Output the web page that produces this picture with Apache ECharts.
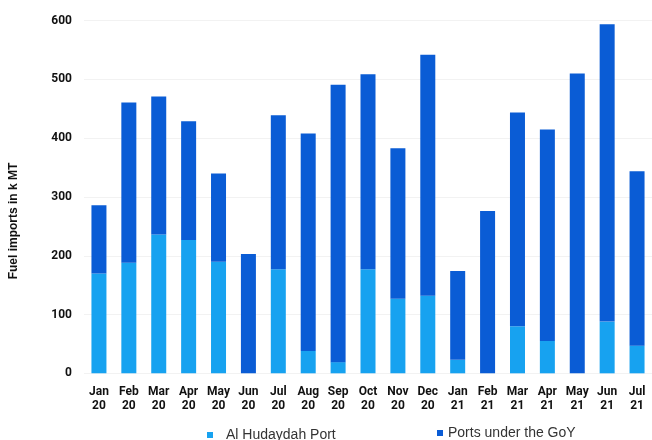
<!DOCTYPE html>
<html>
<head>
<meta charset="utf-8">
<script src="https://cdn.jsdelivr.net/npm/echarts@6/dist/echarts.min.js"></script>
<style>
  html, body { margin: 0; padding: 0; background: #fff; }
  #chart { width: 652px; height: 440px; }
</style>
</head>
<body>
<div id="chart"></div>
<script>
// Monthly fuel imports (thousand metric tonnes), Jan 2020 – Jul 2021
const months = ['Jan\n20','Feb\n20','Mar\n20','Apr\n20','May\n20','Jun\n20','Jul\n20','Aug\n20','Sep\n20','Oct\n20','Nov\n20','Dec\n20',
                'Jan\n21','Feb\n21','Mar\n21','Apr\n21','May\n21','Jun\n21','Jul\n21'];
const hudaydah = [170, 188, 236, 227, 190, 0, 177, 38, 19, 177, 127, 132, 23, 0, 80, 55, 0, 88, 47];
const goyPorts = [116, 273, 235, 202, 150, 203, 262, 370, 472, 332, 256, 410, 151, 276, 364, 360, 510, 506, 297];
const yTicks = { min: 0, max: 600, step: 100 };

const chart = echarts.init(document.getElementById('chart'));
const legendText = { fontFamily: 'Liberation Sans, Arial, sans-serif', fontSize: 14, color: '#333' };

chart.setOption({
  animation: false,
  grid: { left: 80, width: 578, top: 20.7, bottom: 66.7 },
  legend: [
    { data: ['Al Hudaydah Port'], left: 207, top: 428, padding: 0, icon: 'rect', itemWidth: 6, itemHeight: 6, itemGap: 0,
      textStyle: Object.assign({ padding: [0, 0, 0, 8] }, legendText) },
    { data: ['Ports under the GoY'], left: 437, top: 426, padding: 0, icon: 'rect', itemWidth: 6, itemHeight: 6, itemGap: 0,
      textStyle: legendText }
  ],
  xAxis: {
    type: 'category',
    data: months,
    axisLine: { show: false },
    axisTick: { show: false },
    axisLabel: {
      interval: 0, margin: 12, color: '#111', fontFamily: 'Roboto, sans-serif',
      fontWeight: 'bold', fontSize: 12, lineHeight: 14
    }
  },
  yAxis: {
    type: 'value',
    min: yTicks.min, max: yTicks.max, interval: yTicks.step,
    name: 'Fuel imports in k MT',
    nameLocation: 'middle',
    nameGap: 64,
    nameRotate: 90,
    nameTextStyle: {
      fontFamily: 'Liberation Sans, Arial, sans-serif', fontWeight: 'bold', fontSize: 12, color: '#111',
      padding: [0, 48, 0, 0]
    },
    axisLine: { show: false },
    axisTick: { show: false },
    splitLine: { lineStyle: { color: '#f2f2f2', width: 1 } },
    axisLabel: { margin: 12, color: '#111', fontFamily: 'Roboto, sans-serif', fontWeight: 'bold', fontSize: 12 }
  },
  series: [
    { name: 'Al Hudaydah Port', type: 'bar', stack: 'total', data: hudaydah, barWidth: 15, itemStyle: { color: '#17a2f0' } },
    { name: 'Ports under the GoY', type: 'bar', stack: 'total', data: goyPorts, barWidth: 15, itemStyle: { color: '#0a5cd5' } }
  ]
});
</script>
</body>
</html>
